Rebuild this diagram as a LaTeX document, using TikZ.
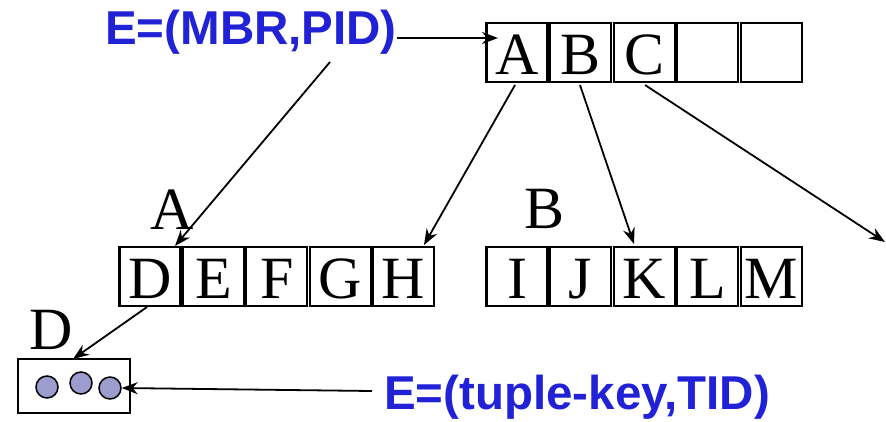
\documentclass[tikz,border=0pt]{standalone}
\usepackage{fontspec}
\setmainfont{Liberation Serif}
\newfontfamily\labelsans{Liberation Sans}
\usetikzlibrary{arrows.meta}
\definecolor{entryblue}{HTML}{2121D6}
\definecolor{dotfill}{HTML}{9C9CCF}
\tikzset{
  cell/.style={draw, line width=2.2pt, minimum width=61pt, minimum height=59pt,
    inner sep=0pt, font=\fontsize{60}{60}\selectfont, text height=43pt, text depth=0pt},
  tag/.style={inner sep=0pt, font=\fontsize{60}{60}\selectfont, anchor=base},
  entry/.style={inner sep=0pt, text=entryblue, font=\labelsans\bfseries\fontsize{47.5}{47.5}\selectfont},
  ptr/.style={line width=1.8pt, -{Stealth[length=16pt,width=12pt]}},
  dot/.style={circle, draw, line width=1.5pt, fill=dotfill, minimum size=22pt, inner sep=0pt}
}
\begin{document}
\begin{tikzpicture}[x=1pt,y=-1pt]
\useasboundingbox (0,0) rectangle (886,421);

% root node
\foreach \n/\t [count=\i from 0] in {r1/A,r2/B,r3/C,r4/{},r5/{}}
  \node[cell] (\n) at (517+63.6*\i,52.5) {\t};

% child A
\foreach \n/\t [count=\i from 0] in {a1/D,a2/E,a3/F,a4/G,a5/H}
  \node[cell] (\n) at (150+63.4*\i,276.5) {\t};

% child B
\foreach \n/\t [count=\i from 0] in {b1/I,b2/J,b3/K,b4/L,b5/M}
  \node[cell] (\n) at (517+63.6*\i,276.5) {\t};

% node labels
\node[tag] (la) at (172,229) {A};
\node[tag] (lb) at (545,228) {B};
\node[tag] (ld) at (51,349) {D};

% leaf with tuples
\node[draw, line width=1.6pt, minimum width=112pt, minimum height=54pt, inner sep=0pt] (leaf) at (74,386) {};
\node[dot] (t1) at (47,387) {};
\node[dot] (t2) at (81,383) {};
\node[dot] (t3) at (110,388) {};

% entry descriptions
\node[entry] (mbr) at (251,32) {E=(MBR,PID)};
\node[entry] (tup) at (577,397) {E=(tuple-key,TID)};

% pointer end points
\coordinate (mbrin) at (498,38);
\coordinate (mbrout) at (330,62);
\coordinate (aout) at (515,85);
\coordinate (bout) at (580,85);
\coordinate (cout) at (645,85);
\coordinate (hin) at (424,245);
\coordinate (kin) at (634,244);
\coordinate (cfree) at (885,242);
\coordinate (din) at (175,246);
\coordinate (dout) at (147,307);
\coordinate (leafin) at (73,359);
\coordinate (tupout) at (372,391);

% pointers
\draw[ptr] (mbr.east |- mbrin) -- (mbrin);
\draw[ptr] (mbrout) -- (din);
\draw[ptr] (aout) -- (hin);
\draw[ptr] (bout) -- (kin);
\draw[ptr] (cout) -- (cfree);
\draw[ptr] (dout) -- (leafin);
\draw[ptr] (tupout) -- (t3.east);
\end{tikzpicture}
\end{document}
